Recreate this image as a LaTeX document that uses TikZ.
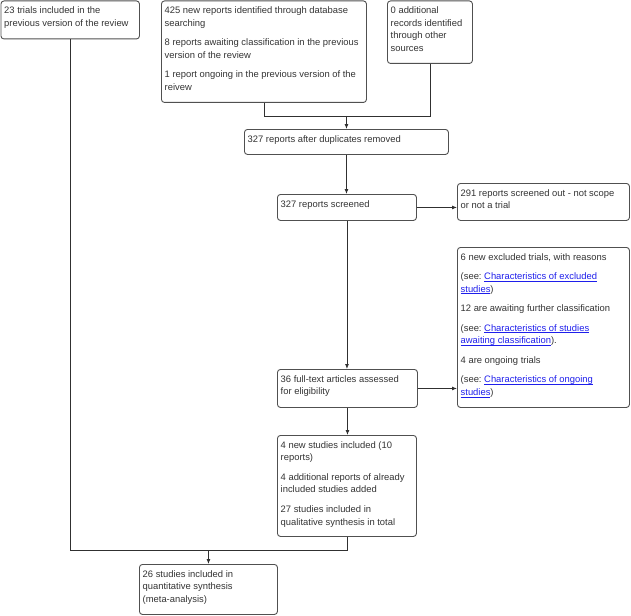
\documentclass[tikz,border=0pt]{standalone}
\usepackage{fontspec}
\setmainfont{Liberation Sans}
\usetikzlibrary{arrows.meta}
\definecolor{boxline}{HTML}{505050}
\definecolor{conn}{HTML}{303030}
\definecolor{txtc}{HTML}{333333}
\definecolor{linkblue}{RGB}{30,30,235}
\frenchspacing
\newsavebox\lnkbox
\newcommand\lnk[1]{\leavevmode{\color{linkblue}\sbox\lnkbox{#1}\rlap{\rule[-1.6pt]{\wd\lnkbox}{0.6pt}}\usebox\lnkbox}}
\newcommand\pgap{\\[6.9pt]}
\tikzset{
  box/.style={draw=boxline, line width=0.9pt, rounded corners=3pt, anchor=north west, inner sep=0pt},
  txt/.style={anchor=base west, inner sep=0pt, text=txtc, font=\fontsize{9.4}{12.6}\selectfont},
  conn/.style={draw=conn, line width=0.9pt},
  arr/.style={conn, -{Latex[length=5pt,width=4pt]}}
}
% name, x, y, w, h, text
\newcommand\pbox[6]{%
  \node[box, minimum width=#4pt, minimum height=#5pt] (#1) at (#2,#3) {};
  \node[txt] (#1t) at ([xshift=3.5pt,yshift=-13.2pt]#1.north west)
    {\parbox[t]{\dimexpr#4pt+40pt}{\raggedright\frenchspacing #6}};
}
\begin{document}
\begin{tikzpicture}[x=1pt,y=-1pt]
\useasboundingbox (0,0) rectangle (631,615);
\pbox{A}{0.5}{0.5}{138.5}{38}{23 trials included in the\\previous version of the review}
\pbox{B}{161}{0.5}{205}{101.5}{425 new reports identified through database\\searching\pgap 8 reports awaiting classification in the previous\\version of the review\pgap 1 report ongoing in the previous version of the\\reivew}
\pbox{C}{387}{0.5}{85}{62.5}{0 additional\\records identified\\through other\\sources}
\pbox{D}{244}{129}{204}{25}{327 reports after duplicates removed}
\pbox{E}{277}{194}{139}{26}{327 reports screened}
\pbox{F}{457}{183}{172}{37}{291 reports screened out - not scope\\or not a trial}
\pbox{G}{457}{247}{172}{160}{6 new excluded trials, with reasons\pgap (see: \lnk{Characteristics of excluded}\\\lnk{studies})\pgap 12 are awaiting further classification\pgap (see: \lnk{Characteristics of studies}\\\lnk{awaiting classification}).\pgap 4 are ongoing trials\pgap (see: \lnk{Characteristics of ongoing}\\\lnk{studies})}
\pbox{H}{277}{369}{140}{38}{36 full-text articles assessed\\for eligibility}
\pbox{I}{277}{435}{139}{101}{4 new studies included (10\\reports)\pgap 4 additional reports of already\\included studies added\pgap 27 studies included in\\qualitative synthesis in total}
\pbox{J}{139}{564}{138}{50}{26 studies included in\\quantitative synthesis\\(meta-analysis)}
% connectors
\coordinate (m1) at (D.north |- 0,116);
\coordinate (m2) at (J.north |- 0,550);
\draw[conn] (B.south) |- (m1);
\draw[conn] (C.south) |- (m1);
\draw[arr] (m1) -- (D.north);
\draw[arr] (D.south) -- (D.south |- E.north);
\draw[arr] (E.east) -- (E.east -| F.west);
\draw[arr] (E.south) -- (E.south |- H.north);
\draw[arr] (H.east) -- (H.east -| G.west);
\draw[arr] (H.south) -- (H.south |- I.north);
\draw[conn] (A.south) |- (m2);
\draw[conn] (I.south) |- (m2);
\draw[arr] (m2) -- (J.north);
\end{tikzpicture}
\end{document}
